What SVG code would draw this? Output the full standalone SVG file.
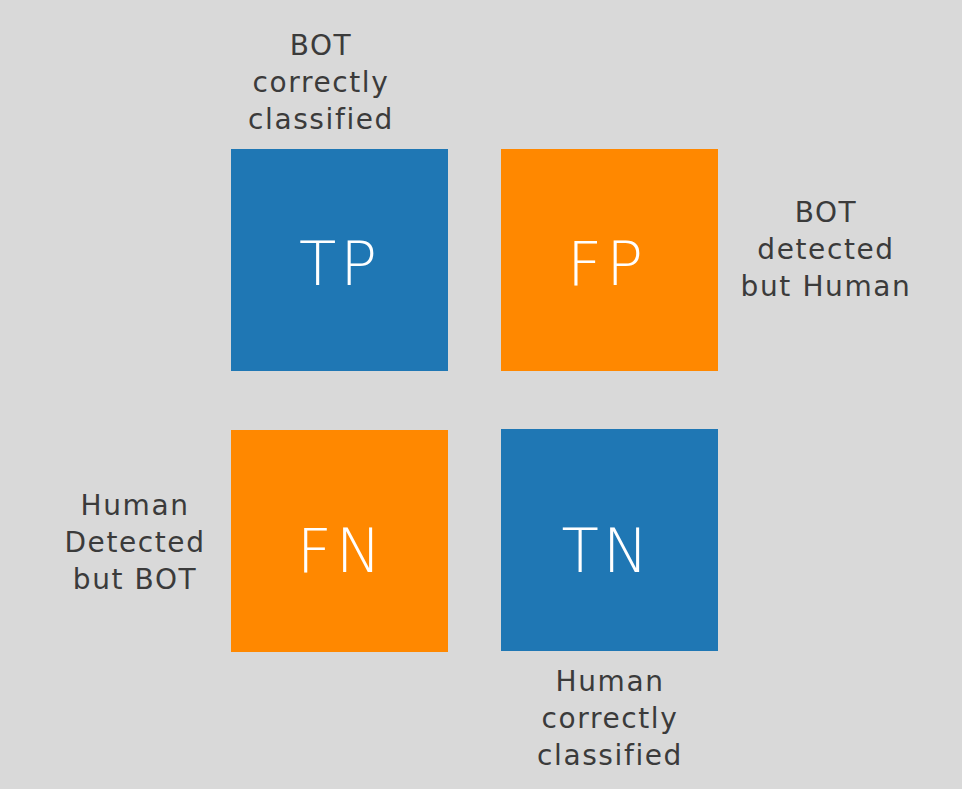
<svg xmlns="http://www.w3.org/2000/svg" width="962" height="789" viewBox="0 0 962 789">
<style>
.lbl{font-family:"DejaVu Sans","Noto Sans",sans-serif;font-size:28px;letter-spacing:1.6px;fill:#3b3b3b;text-anchor:middle}
.big{font-family:"DejaVu Sans","Noto Sans",sans-serif;font-size:61px;letter-spacing:4px;fill:#ffffff;text-anchor:middle;font-weight:300}
.blue{fill:#1f77b4}
.orange{fill:#ff8800}
</style>
<rect width="962" height="789" fill="#d9d9d9"/>
<g id="TP"><rect class="blue" x="231" y="149" width="217" height="222"/><text class="big" x="340" y="285">TP</text></g>
<g id="FP"><rect class="orange" x="501" y="149" width="217" height="222"/><text class="big" x="607" y="285">FP</text></g>
<g id="FN"><rect class="orange" x="231" y="430" width="217" height="222"/><text class="big" x="341" y="572">FN</text></g>
<g id="TN"><rect class="blue" x="501" y="429" width="217" height="222"/><text class="big" x="607" y="572">TN</text></g>
<g id="TP-label"><text class="lbl" x="321"><tspan x="321" y="55">BOT</tspan><tspan x="321" y="92">correctly</tspan><tspan x="321" y="129">classified</tspan></text></g>
<g id="FP-label"><text class="lbl" x="826"><tspan x="826" y="222">BOT</tspan><tspan x="826" y="259">detected</tspan><tspan x="826" y="296">but Human</tspan></text></g>
<g id="FN-label"><text class="lbl" x="135"><tspan x="135" y="515">Human</tspan><tspan x="135" y="552">Detected</tspan><tspan x="135" y="589">but BOT</tspan></text></g>
<g id="TN-label"><text class="lbl" x="610"><tspan x="610" y="691">Human</tspan><tspan x="610" y="728">correctly</tspan><tspan x="610" y="765">classified</tspan></text></g>
<g id="connectors"/>
</svg>
